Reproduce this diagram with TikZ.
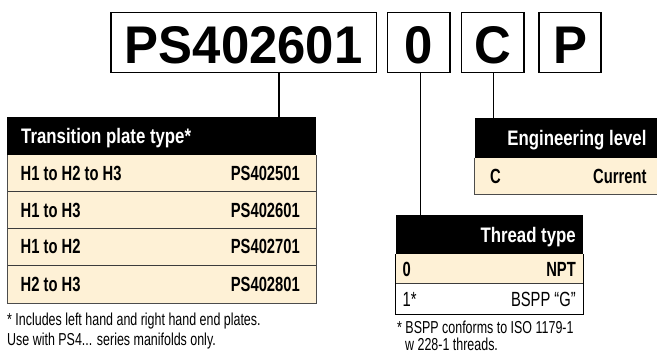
\documentclass[tikz,border=0pt]{standalone}
\usepackage{fontspec}
\setmainfont{Liberation Sans}
\newfontfamily\condf[FakeStretch=0.72]{Liberation Sans}
\newfontfamily\hdrf[FakeStretch=0.8]{Liberation Sans}
\newfontfamily\bigf[FakeStretch=0.96]{Liberation Sans}
\definecolor{cream}{RGB}{254,241,214}
\definecolor{rule}{RGB}{60,60,60}
\begin{document}
\begin{tikzpicture}[x=1pt,y=-1pt,
  codebox/.style={draw=black,line width=1.4pt,fill=white},
  bigtxt/.style={inner sep=0pt,anchor=base,font=\bigf\bfseries\fontsize{53}{53}\selectfont},
  hdrtxt/.style={inner sep=0pt,text=white,font=\hdrf\bfseries\fontsize{21}{21}\selectfont},
  celltxt/.style={inner sep=0pt,font=\condf\bfseries\fontsize{20.5}{20.5}\selectfont},
  celltxtr/.style={inner sep=0pt,font=\condf\fontsize{20.5}{20.5}\selectfont},
  notetxt/.style={inner sep=0pt,anchor=base west,font=\condf\fontsize{17.3}{17.3}\selectfont},
  conn/.style={line width=1.5pt,black},
  sep/.style={line width=0.8pt,rule}]
\useasboundingbox (0,0) rectangle (657,354);

% top code boxes
\draw[codebox] (111,12.3) rectangle (376.5,72.5);
\draw[codebox] (387.7,12.3) rectangle (450,72.5);
\draw[codebox] (461.7,12.3) rectangle (524,72.5);
\draw[codebox] (539,12.3) rectangle (601,72.5);
\node[bigtxt] (ps) at (243.75,63.3) {PS402601};
\node[bigtxt] (zero) at (418.85,63.3) {0};
\node[bigtxt] (cee) at (492.85,63.3) {C};
\node[bigtxt] (pee) at (570,63.3) {P};
\coordinate (psb) at (279,72.5);
\coordinate (zb) at (420.7,72.5);
\coordinate (cb) at (493.3,72.5);
\coordinate (t1top) at (279,117);
\coordinate (t2top) at (420.7,215);
\coordinate (t3top) at (493.3,117.5);
\draw[conn] (psb) -- (t1top);
\draw[conn] (zb) -- (t2top);
\draw[conn] (cb) -- (t3top);

% Transition plate table
\fill[black] (7.3,117) rectangle (316,155);
\fill[cream] (7.3,155) rectangle (316,303);
\draw[sep] (7.3,191.5) -- (316,191.5);
\draw[sep] (7.3,228) -- (316,228);
\draw[sep] (7.3,265) -- (316,265);
\draw[line width=0.9pt,black!70] (7.3,155) -- (7.3,303) -- (316,303) -- (316,155);
\node[hdrtxt,anchor=base west] (t1h) at (21,143.5) {Transition plate type*};
\node[celltxt,anchor=base west] (r1a) at (20.5,180.5) {H1 to H2 to H3};
\node[celltxt,anchor=base east] (r1b) at (300,180.5) {PS402501};
\node[celltxt,anchor=base west] (r2a) at (20.5,217) {H1 to H3};
\node[celltxt,anchor=base east] (r2b) at (300,217) {PS402601};
\node[celltxt,anchor=base west] (r3a) at (20.5,253.7) {H1 to H2};
\node[celltxt,anchor=base east] (r3b) at (300,253.7) {PS402701};
\node[celltxt,anchor=base west] (r4a) at (20.5,291.2) {H2 to H3};
\node[celltxt,anchor=base east] (r4b) at (300,291.2) {PS402801};
\node[notetxt] (n1) at (7,325) {* Includes left hand and right hand end plates.};
\node[notetxt] (n2) at (7,345) {Use with PS4... series manifolds only.};

% Engineering level table
\fill[black] (474.5,117.5) rectangle (657,157.5);
\fill[cream] (474.5,157.5) rectangle (657,194);
\draw[line width=0.9pt,black!70] (474.5,157.5) -- (474.5,194) -- (657,194);
\node[hdrtxt,anchor=base east] (eh) at (646.7,145) {Engineering level};
\node[celltxt,anchor=base west] (ea) at (490,183) {C};
\node[celltxt,anchor=base east] (eb) at (646.7,183) {Current};

% Thread type table
\fill[black] (395.7,215) rectangle (583.3,254);
\fill[cream] (395.7,254) rectangle (583.3,283.5);
\fill[white] (395.7,283.5) rectangle (583.3,314);
\draw[sep] (395.7,283.5) -- (583.3,283.5);
\draw[line width=1pt,black] (395.7,254) -- (395.7,314) -- (583.3,314) -- (583.3,254);
\node[hdrtxt,anchor=base east] (th) at (576,242) {Thread type};
\node[celltxt,anchor=base west] (ta) at (402.5,276) {0};
\node[celltxt,anchor=base east] (tb) at (576,276) {NPT};
\node[celltxtr,anchor=base west] (tc) at (402.5,306) {1*};
\node[celltxtr,anchor=base east] (td) at (576,306) {BSPP “G”};
\node[notetxt] (n3) at (397,333.5) {* BSPP conforms to ISO 1179-1};
\node[notetxt] (n4) at (405,350) {w 228-1 threads.};
\end{tikzpicture}
\end{document}
